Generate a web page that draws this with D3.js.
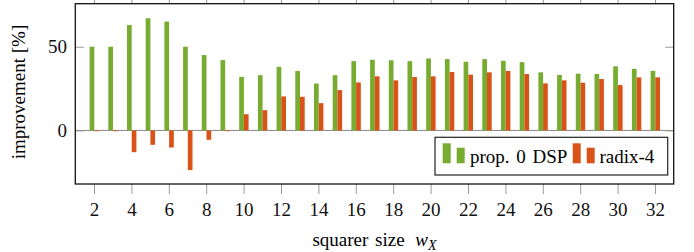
<!DOCTYPE html>
<html>
<head>
<meta charset="utf-8">
<script src="https://cdn.jsdelivr.net/npm/d3@7/dist/d3.min.js"></script>
<style>
  html, body { margin: 0; padding: 0; background: #fff; }
  .axis .domain { display: none; }
  .axis line { stroke: #999; stroke-width: 1; }
</style>
</head>
<body>
<div id="chart-container"></div>
<script>
// squarer sizes w_X
const sizes = [2, 3, 4, 5, 6, 7, 8, 9, 10, 11, 12, 13, 14, 15, 16, 17, 18, 19, 20, 21, 22, 23, 24, 25, 26, 27, 28, 29, 30, 31, 32];
// improvement [%] of proposed (0 DSP)
const propValues = [50, 50, 63, 67, 65, 50, 45, 42, 32, 33, 38, 35.5, 28, 33, 41.4, 42.2, 41.9, 41.4, 43, 42.6, 41, 42.6, 41.6, 40.8, 34.7, 33.1, 33.9, 33.7, 38.3, 36.8, 35.6];
// improvement [%] of radix-4
const radixValues = [0, 0, -13, -8.6, -10.2, -23.7, -5.6, 0, 9.7, 12.1, 20.3, 20.1, 16.3, 24.1, 28.7, 32.3, 29.9, 31.9, 32.3, 34.9, 33.3, 34.7, 35.5, 33.7, 28.1, 29.9, 28.5, 30.7, 27.1, 31.7, 31.7];
const xTicks = [2, 4, 6, 8, 10, 12, 14, 16, 18, 20, 22, 24, 26, 28, 30, 32];
const yTicks = [0, 50];
const seriesNames = ['prop. 0 DSP', 'radix-4'];
const seriesColors = ['#77ac30', '#d95319'];

const W = 694, H = 252;
const mLeft = 75.3, mRight = 673.7, mTop = 3.7, mBottom = 184;
const FONT = "'Liberation Serif', 'Times New Roman', 'DejaVu Serif', serif";
const FS = 19;

const svg = d3.select('#chart-container').append('svg')
  .attr('width', W).attr('height', H)
  .style('display', 'block');

const x = d3.scaleLinear().domain([1, 33]).range([mLeft, mRight]);
const y = d3.scaleLinear().domain([-32, 75.7]).range([mBottom, mTop]);

// zero line
svg.append('line')
  .attr('x1', mLeft).attr('x2', mRight)
  .attr('y1', y(0)).attr('y2', y(0))
  .attr('stroke', '#888').attr('stroke-width', 1);

const barW = 4.7;
const series = [propValues, radixValues];
series.forEach((vals, si) => {
  svg.append('g').selectAll('rect')
    .data(sizes.map((s, i) => ({ s, v: vals[i] })))
    .enter().append('rect')
    .attr('x', d => si === 0 ? x(d.s) - barW + 0.3 : x(d.s) + 0.3)
    .attr('y', d => Math.min(y(d.v), y(0)))
    .attr('width', barW)
    .attr('height', d => Math.max(0.8, Math.abs(y(d.v) - y(0))))
    .attr('fill', seriesColors[si]);
});

// axes
const styleAxis = g => {
  g.attr('font-family', FONT).attr('font-size', FS);
  g.selectAll('text').attr('fill', '#111');
};

svg.append('g')
  .attr('class', 'axis')
  .attr('transform', `translate(0,${mBottom})`)
  .call(d3.axisBottom(x).tickValues(xTicks).tickSize(10).tickSizeOuter(0).tickPadding(9))
  .call(styleAxis);

svg.append('g')
  .attr('class', 'axis')
  .attr('transform', `translate(0,${mTop})`)
  .call(d3.axisTop(x).tickValues(xTicks).tickSize(10).tickSizeOuter(0).tickFormat(''));

svg.append('g')
  .attr('class', 'axis')
  .attr('transform', `translate(${mLeft},0)`)
  .call(d3.axisLeft(y).tickValues(yTicks).tickSize(-8.5).tickSizeOuter(0).tickPadding(8.3))
  .call(styleAxis);

svg.append('g')
  .attr('class', 'axis')
  .attr('transform', `translate(${mRight},0)`)
  .call(d3.axisRight(y).tickValues(yTicks).tickSize(-8.5).tickSizeOuter(0).tickFormat(''));

// frame
svg.append('rect')
  .attr('x', mLeft).attr('y', mTop)
  .attr('width', mRight - mLeft).attr('height', mBottom - mTop)
  .attr('fill', 'none').attr('stroke', '#111').attr('stroke-width', 1.3);

// axis labels
svg.append('text')
  .attr('x', (mLeft + mRight) / 2).attr('y', 246)
  .attr('text-anchor', 'middle')
  .attr('font-family', FONT).attr('font-size', FS)
  .attr('word-spacing', 2)
  .html('squarer size <tspan font-style="italic" dx="4">w</tspan><tspan font-style="italic" font-size="14" dy="4">X</tspan>');

svg.append('text')
  .attr('transform', `translate(25,92) rotate(-90)`)
  .attr('text-anchor', 'middle')
  .attr('font-family', FONT).attr('font-size', FS)
  .text('improvement [%]');

// legend
const lg = svg.append('g');
lg.append('rect')
  .attr('x', 435).attr('y', 137.3)
  .attr('width', 232.7).attr('height', 37.7)
  .attr('fill', '#fff').attr('stroke', '#222').attr('stroke-width', 1.2);

const legendItems = [
  { x0: 442.7, tx: 470 },
  { x0: 572.7, tx: 599.5 }
];
legendItems.forEach((it, i) => {
  lg.append('rect').attr('x', it.x0).attr('y', 143.3).attr('width', 8).attr('height', 20).attr('fill', seriesColors[i]);
  lg.append('rect').attr('x', it.x0 + 14).attr('y', 147.7).attr('width', 8).attr('height', 15.6).attr('fill', seriesColors[i]);
  lg.append('text').attr('x', it.tx).attr('y', 163.3)
    .attr('font-family', FONT).attr('font-size', FS)
    .attr('word-spacing', 2)
    .text(seriesNames[i]);
});
</script>
</body>
</html>
